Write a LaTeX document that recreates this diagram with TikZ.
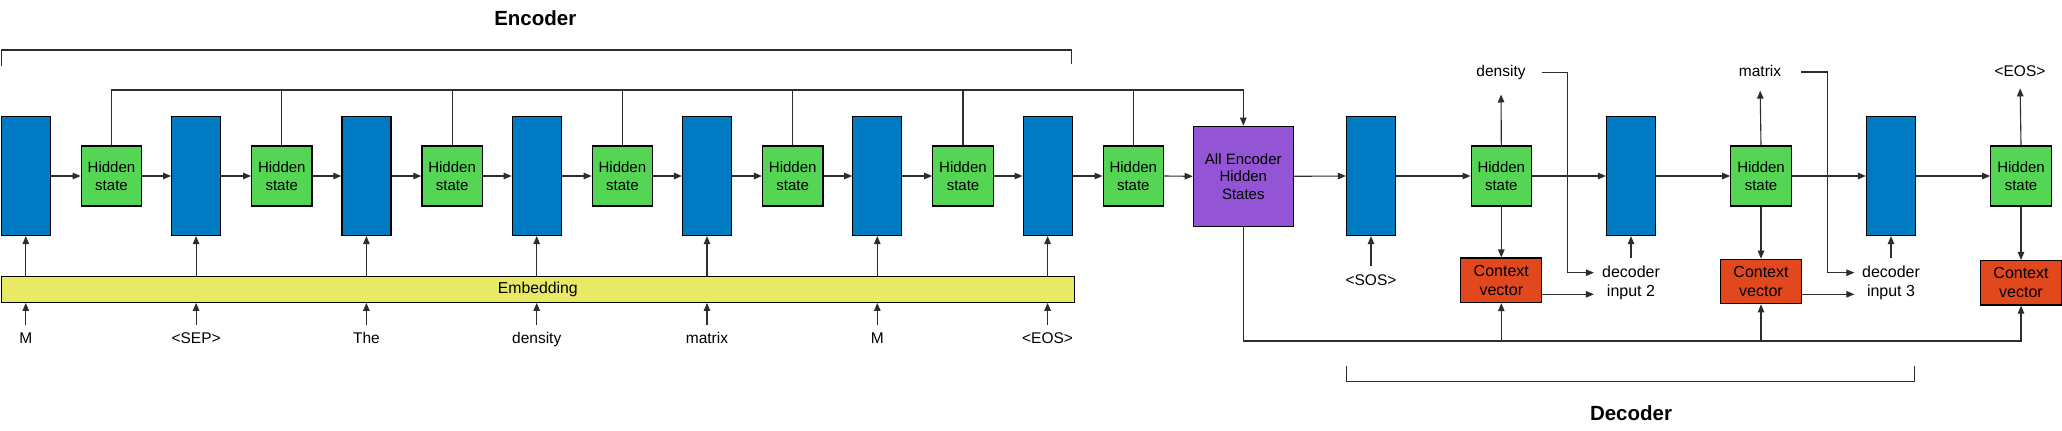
\documentclass[tikz,border=0pt]{standalone}
\usepackage{fontspec}
\setmainfont{Liberation Sans}
\usetikzlibrary{arrows.meta}
\definecolor{cblue}{RGB}{0,122,194}
\definecolor{cgreen}{RGB}{84,214,84}
\definecolor{cpurple}{RGB}{148,84,214}
\definecolor{cyellow}{RGB}{232,234,102}
\definecolor{cred}{RGB}{226,72,30}
\definecolor{linec}{RGB}{45,45,45}
\begin{document}
\begin{tikzpicture}[x=1pt,y=-1pt,
  conn/.style={draw=linec, line width=1.1pt},
  arr/.style={-{Triangle[length=8pt,width=6.5pt]}},
  bluebox/.style={draw=black, fill=cblue, minimum width=49pt, minimum height=119pt, inner sep=0pt, line width=1.2pt},
  greenbox/.style={draw=black, fill=cgreen, minimum width=60.4pt, minimum height=60pt, inner sep=0pt, line width=1.2pt, align=center, font=\fontsize{15}{18.3}\selectfont},
  purplebox/.style={draw=black, fill=cpurple, minimum width=100pt, minimum height=100pt, inner sep=0pt, line width=1.2pt, align=center, font=\fontsize{15}{17.5}\selectfont},
  redbox/.style={draw=black, fill=cred, minimum width=81pt, minimum height=44.5pt, inner sep=0pt, line width=1.2pt, align=center, font=\fontsize{16}{18.7}\selectfont},
  embbox/.style={draw=black, fill=cyellow, minimum width=1073pt, minimum height=26pt, inner sep=0pt, line width=1.2pt, font=\fontsize{15.8}{19}\selectfont},
  lbl/.style={font=\fontsize{15.5}{19}\selectfont, inner sep=0pt, text height=11pt, text depth=3pt},
  dlbl/.style={font=\fontsize{16}{19}\selectfont, inner sep=0pt, align=center},
  title/.style={font=\fontsize{20.5}{24}\selectfont\bfseries, inner sep=0pt}
]
\fill[white] (0,0) rectangle (2062,431);
\useasboundingbox (0,0) rectangle (2062,431);

% titles
\node[title] (enc) at (535.3,18.3) {Encoder};
\node[title] (dec) at (1631,412.7) {Decoder};

% brackets
\draw[conn] (1.3,66) -- (1.3,50) -- (1071.3,50) -- (1071.3,64);
\draw[conn] (1346.5,366) -- (1346.5,381.5) -- (1914.7,381.5) -- (1914.7,366);

% embedding
\node[embbox] (emb) at (537.8,289.3) {Embedding};

% encoder chain
\foreach \i/\t in {0/M,1/{<SEP>},2/The,3/density,4/matrix,5/M,6/{<EOS>}} {
  \node[bluebox] (b\i) at ({25.8+170.3*\i},176) {};
  \node[greenbox] (g\i) at ({111.5+170.3*\i},176) {Hidden\\state};
  \node[lbl] (l\i) at ({25.8+170.3*\i},339) {\t};
}

% all encoder hidden states
\node[purplebox] (pu) at (1243.3,176.3) {All Encoder\\Hidden\\States};
\coordinate (bus) at (1243.3,90);

\foreach \i in {0,...,6} {
  \draw[conn,arr] (b\i.east) -- (g\i.west);
  \draw[conn,arr] (b\i.south |- emb.north) -- (b\i.south);
  \draw[conn,arr,shorten <=7pt] (l\i.north) -- (l\i.north |- emb.south);
}
\foreach \i in {1,...,6} {
  \draw[conn] (g\i.north) -- (g\i.north |- bus);
}
\foreach \i [evaluate=\i as \j using int(\i+1)] in {0,...,5} {
  \draw[conn,arr] (g\i.east) -- (b\j.west);
}
\draw[conn,arr] (g6.east) -- (pu.west);
\draw[conn,arr] (g0.north) |- (bus) -- (pu.north);

% decoder
\node[bluebox] (d1) at (1371,176) {};
\node[bluebox] (d2) at (1631,176) {};
\node[bluebox] (d3) at (1891,176) {};
\node[greenbox] (h1) at (1501.3,176) {Hidden\\state};
\node[greenbox] (h2) at (1761,176) {Hidden\\state};
\node[greenbox] (h3) at (2021,176) {Hidden\\state};
\node[redbox] (c1) at (1501.3,280.3) {Context\\vector};
\node[redbox] (c2) at (1761,281.5) {Context\\vector};
\node[redbox] (c3) at (2021,282.8) {Context\\vector};
\node[lbl] (t1) at (1501,72.3) {density};
\node[lbl] (t2) at (1760,72) {matrix};
\node[lbl] (t3) at (2020,72.7) {<EOS>};
\node[lbl] (sos) at (1371,281) {<SOS>};
\node[dlbl] (di2) at (1631,283) {decoder\\input 2};
\node[dlbl] (di3) at (1891,283) {decoder\\input 3};

\coordinate (di2a) at ([yshift=10.3pt]di2.west);
\coordinate (di2b) at ([yshift=-11.3pt]di2.west);
\coordinate (di3a) at ([yshift=10.3pt]di3.west);
\coordinate (di3b) at ([yshift=-11.3pt]di3.west);
\coordinate (k1) at (1567.7,72.3);
\coordinate (k2) at (1827.7,72);
\coordinate (dbus) at (1243.3,341);

\draw[conn,arr] (pu.east) -- (d1.west);
\draw[conn,arr] (d1.east) -- (h1.west);
\draw[conn,arr] (h1.east) -- (d2.west);
\draw[conn,arr] (d2.east) -- (h2.west);
\draw[conn,arr] (h2.east) -- (d3.west);
\draw[conn,arr] (d3.east) -- (h3.west);

\draw[conn,arr,shorten >=15pt] (h1.north) -- (t1.south);
\draw[conn,arr,shorten >=11.5pt] (h2.north) -- (t2.south);
\draw[conn,arr,shorten >=8.5pt] (h3.north) -- (t3.south);

\draw[conn,arr] (h1.south) -- (c1.north);
\draw[conn,arr] (h2.south) -- (c2.north);
\draw[conn,arr] (h3.south) -- (c3.north);

\draw[conn,arr,shorten <=8pt] (sos.north) -- (d1.south);
\draw[conn,arr,shorten <=8pt] (di2.north) -- (d2.south);
\draw[conn,arr,shorten <=8pt] (di3.north) -- (d3.south);

\draw[conn,arr,shorten <=16pt,shorten >=8pt] (t1.east) -- (t1.east -| k1) |- (di2a);
\draw[conn,arr,shorten <=20pt,shorten >=7.5pt] (t2.east) -- (t2.east -| k2) |- (di3a);
\draw[conn,arr,shorten >=8pt] (c1.east |- di2b) -- (di2b);
\draw[conn,arr,shorten >=7.5pt] (c2.east |- di3b) -- (di3b);

\draw[conn,arr] (pu.south) |- (c3.south |- dbus) -- (c3.south);
\draw[conn,arr] (c1.south |- dbus) -- (c1.south);
\draw[conn,arr] (c2.south |- dbus) -- (c2.south);
\end{tikzpicture}
\end{document}
